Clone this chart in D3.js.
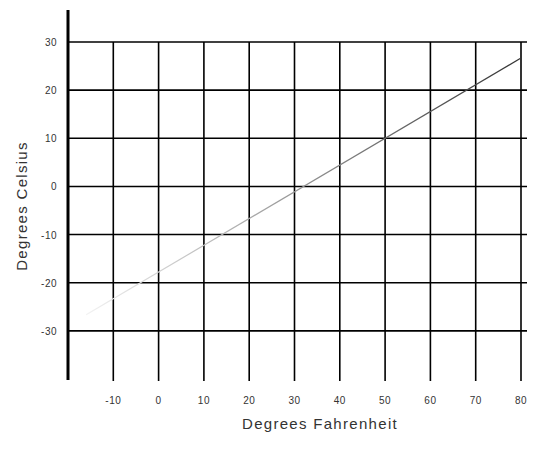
<!DOCTYPE html>
<html><head><meta charset="utf-8">
<script src="https://cdn.jsdelivr.net/npm/d3@7"></script>
<style>body{margin:0;background:#fff}</style></head>
<body><svg id="c" width="550" height="449"></svg>
<script>
const xTicks=[-10,0,10,20,30,40,50,60,70,80];
const yTicks=[-30,-20,-10,0,10,20,30];
const fahrenheit=[-16,80];
const celsius=fahrenheit.map(f=>(f-32)*5/9);
const svg=d3.select("#c");
const x=d3.scaleLinear().domain([-20,80]).range([68,521]);
const y=d3.scaleLinear().domain([-40,30]).range([379,42]);
const font="Liberation Sans, Arial, sans-serif";
svg.selectAll(".h").data(yTicks).join("line").attr("x1",68).attr("x2",527)
 .attr("y1",d=>y(d)).attr("y2",d=>y(d)).attr("stroke","#000").attr("stroke-width",1.6);
svg.selectAll(".v").data(xTicks).join("line").attr("x1",d=>x(d)).attr("x2",d=>x(d))
 .attr("y1",y(30)).attr("y2",381).attr("stroke","#000").attr("stroke-width",1.6);
svg.append("line").attr("x1",68).attr("x2",68).attr("y1",10).attr("y2",380).attr("stroke","#000").attr("stroke-width",3);
svg.selectAll(".yl").data(yTicks).join("text").attr("x",57).attr("y",d=>y(d)+4).attr("text-anchor","end")
 .attr("font-family",font).attr("font-size",10).attr("letter-spacing",0.5).attr("fill","#333").text(d=>d);
svg.selectAll(".xl").data(xTicks).join("text").attr("x",d=>x(d)).attr("y",404).attr("text-anchor","middle")
 .attr("font-family",font).attr("font-size",10).attr("letter-spacing",0.5).attr("fill","#333").text(d=>d);
svg.append("text").attr("x",320).attr("y",429).attr("text-anchor","middle").attr("font-family",font)
 .attr("font-size",15).attr("fill","#333").attr("letter-spacing",1.3).text("Degrees Fahrenheit");
svg.append("text").attr("transform","translate(27,206) rotate(-90)").attr("text-anchor","middle").attr("font-family",font)
 .attr("font-size",15).attr("fill","#333").attr("letter-spacing",1.3).text("Degrees Celsius");
const g=svg.append("defs").append("linearGradient").attr("id","lg").attr("gradientUnits","userSpaceOnUse")
 .attr("x1",x(fahrenheit[0])).attr("x2",x(fahrenheit[1])).attr("y1",0).attr("y2",0);
g.append("stop").attr("offset","0").attr("stop-color","#f2f2f2");
g.append("stop").attr("offset","1").attr("stop-color","#333");
svg.append("path").datum(fahrenheit.map((f,i)=>[f,celsius[i]]))
 .attr("d",d3.line().x(d=>x(d[0])).y(d=>y(d[1]))).attr("fill","none").attr("stroke","url(#lg)").attr("stroke-width",1.2);
</script></body></html>
